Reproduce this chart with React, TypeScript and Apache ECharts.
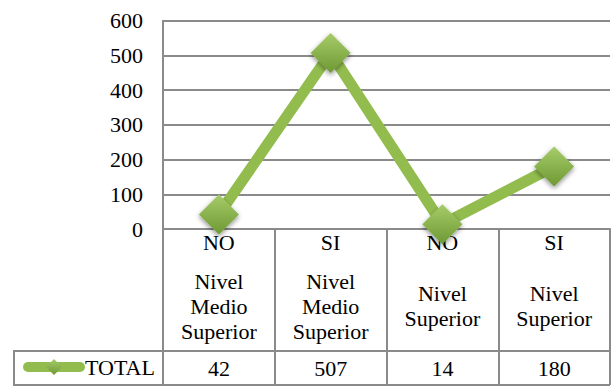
import React, { useEffect, useRef } from "react";
import * as echarts from "echarts";

const answers = ["NO", "SI", "NO", "SI"];
const levels = ["Nivel\nMedio\nSuperior", "Nivel\nMedio\nSuperior", "Nivel\nSuperior", "Nivel\nSuperior"];
const totals = [42, 507, 14, 180];
const seriesName = "TOTAL";
const yTicks = { min: 0, max: 600, interval: 100 };

const FONT = "Liberation Serif";
const GRAY = "#8a8a8a";
const GREEN = "#92BD4E";

export default function App() {
  const ref = useRef<HTMLDivElement>(null);
  useEffect(() => {
    if (!ref.current) return;
    const chart = echarts.init(ref.current, undefined, { renderer: "svg" });
    const diamondFill = new echarts.graphic.LinearGradient(0, 0, 0, 1, [
      { offset: 0, color: "#a6cc68" },
      { offset: 1, color: "#6e9934" },
    ]);
    const labelBase = { fontFamily: FONT, fontSize: 22, color: "#000" };
    chart.setOption({
      animation: false,
      textStyle: { fontFamily: FONT },
      grid: { left: 163, right: 1, top: 20.7, bottom: 158, containLabel: false },
      legend: {
        data: [seriesName],
        left: 23,
        top: 356,
        padding: 0,
        itemWidth: 52,
        itemHeight: 20,
        textStyle: { ...labelBase },
        lineStyle: { width: 10, color: GREEN, cap: "round" },
      },
      xAxis: [
        {
          type: "category",
          position: "bottom",
          data: answers,
          boundaryGap: true,
          axisLine: { show: true, lineStyle: { color: GRAY, width: 2 } },
          axisTick: { show: true, interval: 0, length: 122, lineStyle: { color: GRAY, width: 2 } },
          axisLabel: { ...labelBase, interval: 0, margin: 13, verticalAlign: "middle" },
          splitLine: { show: false },
        },
        {
          type: "category",
          position: "bottom",
          data: levels,
          boundaryGap: true,
          axisLine: { show: false },
          axisTick: { show: false },
          axisLabel: { ...labelBase, interval: 0, margin: 77, verticalAlign: "middle", lineHeight: 25 },
        },
        {
          type: "category",
          position: "bottom",
          offset: 122,
          data: totals.map(String),
          boundaryGap: true,
          axisLine: { show: true, lineStyle: { color: GRAY, width: 2 } },
          axisTick: { show: true, interval: 0, length: 34, lineStyle: { color: GRAY, width: 2 } },
          axisLabel: { ...labelBase, interval: 0, margin: 17, verticalAlign: "middle" },
        },
      ],
      yAxis: {
        type: "value",
        min: yTicks.min,
        max: yTicks.max,
        interval: yTicks.interval,
        axisLine: { show: true, lineStyle: { color: GRAY, width: 2 } },
        axisTick: { show: false },
        axisLabel: { ...labelBase, margin: 20 },
        splitLine: { show: true, lineStyle: { color: GRAY, width: 2 } },
      },
      graphic: [
        { type: "line", shape: { x1: 14, y1: 351, x2: 163, y2: 351 }, style: { stroke: GRAY, lineWidth: 2 } },
        { type: "line", shape: { x1: 14, y1: 350, x2: 14, y2: 386 }, style: { stroke: GRAY, lineWidth: 2 } },
        { type: "line", shape: { x1: 14, y1: 385, x2: 610, y2: 385 }, style: { stroke: GRAY, lineWidth: 2 } },
      ],
      series: [
        {
          name: seriesName,
          type: "line",
          data: totals,
          symbol: "diamond",
          symbolSize: 40,
          lineStyle: { color: GREEN, width: 11 },
          itemStyle: {
            color: diamondFill,
            shadowBlur: 5,
            shadowColor: "rgba(0,0,0,0.45)",
            shadowOffsetY: 2,
          },
          z: 3,
        },
      ],
    });
    return () => chart.dispose();
  }, []);
  return <div ref={ref} style={{ width: 611, height: 387, position: "absolute", left: 0, top: 0 }} />;
}
